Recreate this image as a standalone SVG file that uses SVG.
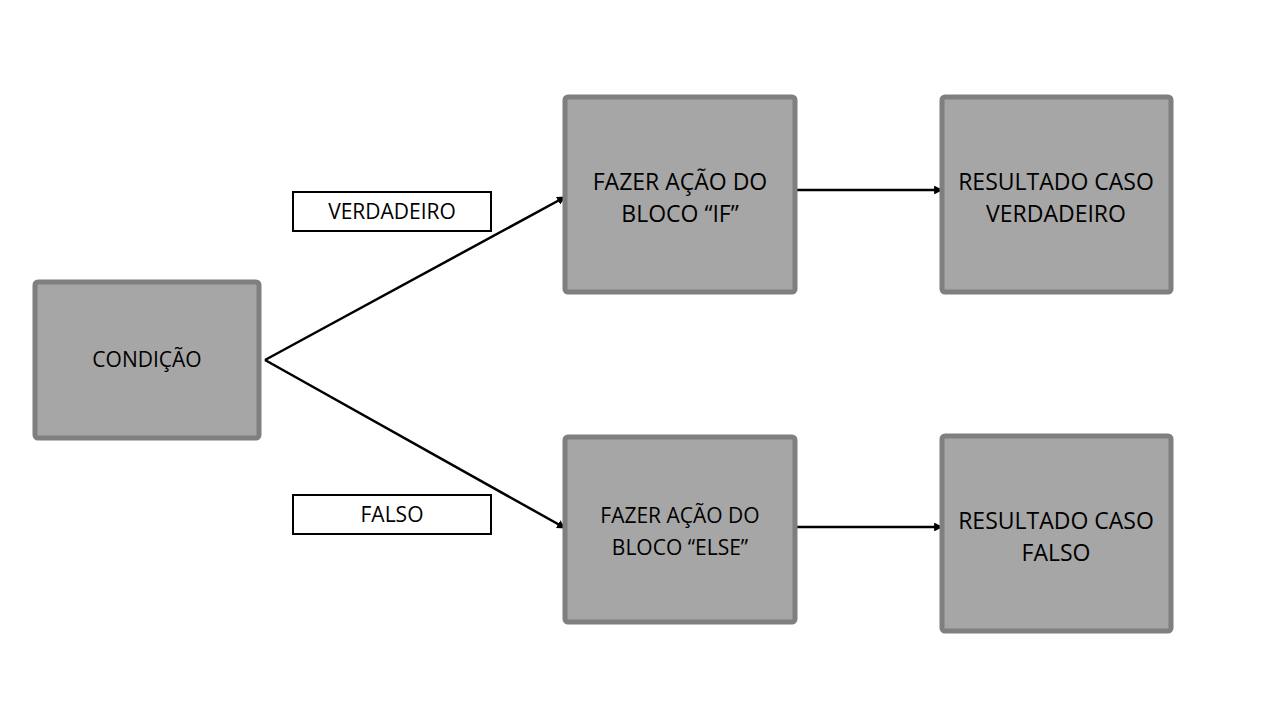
<svg xmlns="http://www.w3.org/2000/svg" width="1280" height="720" viewBox="0 0 1280 720">
<defs>
<style>
.box{fill:#a6a6a6;stroke:#7f7f7f;stroke-width:5}
.lbl{fill:#ffffff;stroke:#000000;stroke-width:2}
.t{font-family:"Open Sans","Liberation Sans",sans-serif;fill:#000000;text-anchor:middle;dominant-baseline:central}
.big{font-size:23px}
.mid{font-size:21px}
.conn{stroke:#000000;stroke-width:2.5;fill:none}
</style>
<marker id="ah" viewBox="0 0 10 10" refX="9" refY="5" markerWidth="3.5" markerHeight="3.5" orient="auto" markerUnits="strokeWidth">
<path d="M0,0 L10,5 L0,10 z" fill="#000000"/>
</marker>
</defs>
<rect width="1280" height="720" fill="#ffffff"/>
<g id="connectors">
<line class="conn" x1="265" y1="360" x2="565" y2="197" marker-end="url(#ah)"/>
<line class="conn" x1="265" y1="360" x2="565" y2="528" marker-end="url(#ah)"/>
<line class="conn" x1="797" y1="190" x2="942" y2="190" marker-end="url(#ah)"/>
<line class="conn" x1="797" y1="527" x2="942" y2="527" marker-end="url(#ah)"/>
</g>
<g id="condicao">
<rect class="box" x="35" y="282" width="224" height="156" rx="3"/>
<text class="t mid" x="147" y="359">CONDIÇÃO</text>
</g>
<g id="acao-if">
<rect class="box" x="565" y="97" width="230" height="195" rx="3"/>
<text class="t big" x="680" y="181">FAZER AÇÃO DO</text>
<text class="t big" x="680" y="213">BLOCO “IF”</text>
</g>
<g id="resultado-verdadeiro">
<rect class="box" x="942" y="97" width="229" height="195" rx="3"/>
<text class="t big" x="1056" y="181">RESULTADO CASO</text>
<text class="t big" x="1056" y="213">VERDADEIRO</text>
</g>
<g id="acao-else">
<rect class="box" x="565" y="437" width="230" height="185" rx="3"/>
<text class="t mid" x="680" y="515">FAZER AÇÃO DO</text>
<text class="t mid" x="680" y="547">BLOCO “ELSE”</text>
</g>
<g id="resultado-falso">
<rect class="box" x="942" y="436" width="229" height="195" rx="3"/>
<text class="t big" x="1056" y="520">RESULTADO CASO</text>
<text class="t big" x="1056" y="552">FALSO</text>
</g>
<g id="label-verdadeiro">
<rect class="lbl" x="293" y="192" width="198" height="39"/>
<text class="t mid" x="392" y="211">VERDADEIRO</text>
</g>
<g id="label-falso">
<rect class="lbl" x="293" y="495" width="198" height="39"/>
<text class="t mid" x="392" y="514">FALSO</text>
</g>
</svg>
